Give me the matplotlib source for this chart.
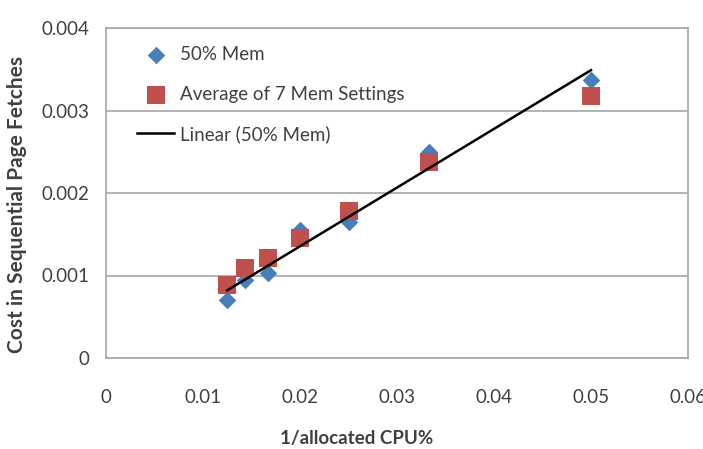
import matplotlib
matplotlib.use("Agg")
import matplotlib.pyplot as plt
import numpy as np

plt.rcParams['font.family'] = ['Lato', 'DejaVu Sans']

x_vals = [1/80, 1/70, 1/60, 1/50, 1/40, 1/30, 1/20]
mem50 = [0.00070, 0.00094, 0.00103, 0.00155, 0.00165, 0.00250, 0.00337]
avg7 = [0.00089, 0.00109, 0.00121, 0.00146, 0.00178, 0.00237, 0.00318]
x_ticks = [0, 0.01, 0.02, 0.03, 0.04, 0.05, 0.06]
y_ticks = [0, 0.001, 0.002, 0.003, 0.004]
x_tick_labels = ["0", "0.01", "0.02", "0.03", "0.04", "0.05", "0.06"]
y_tick_labels = ["0", "0.001", "0.002", "0.003", "0.004"]

fig = plt.figure(figsize=(7.03, 4.49), dpi=100)
ax = fig.add_axes([106/703, 1-358/449, (688-106)/703, (358-28)/449])

xa = np.array(x_vals)
coef = np.polyfit(xa, np.array(mem50), 1)
xs = np.array([min(x_vals), max(x_vals)])

ax.scatter(x_vals, mem50, marker='D', s=80, color='#4a7ebb', label='50% Mem', zorder=3, linewidths=0)
ax.scatter(x_vals, avg7, marker='s', s=150, color='#c0504d', label='Average of 7 Mem Settings', zorder=3, linewidths=0)
ax.plot(xs, np.polyval(coef, xs), color='black', lw=1.8, label='Linear (50% Mem)', zorder=4)

ax.set_xlim(0, 0.06)
ax.set_ylim(0, 0.004)
ax.set_xticks(x_ticks)
ax.set_xticklabels(x_tick_labels)
ax.set_yticks(y_ticks)
ax.set_yticklabels(y_tick_labels)
ax.tick_params(length=0, labelsize=13.5, labelcolor='#404040')
ax.tick_params(axis='x', pad=22)
ax.tick_params(axis='y', pad=12)
ax.grid(axis='y', color='#a6a6a6', lw=1.2)
ax.set_axisbelow(True)
for s in ax.spines.values():
    s.set_color('#a6a6a6')
    s.set_linewidth(1.2)

ax.set_xlabel('1/allocated CPU%', fontsize=13.5, fontweight='bold', color='#404040', va='center')
ax.xaxis.set_label_coords(0.431, -0.243)
ax.set_ylabel('Cost in Sequential Page Fetches', fontsize=15, fontweight='bold', color='#404040', va='center')
ax.yaxis.set_label_coords(-0.153, 0.464)

leg = ax.legend(loc='upper left', bbox_to_anchor=(0.053, 0.945), frameon=False, fontsize=13.5,
                labelspacing=1.2, handletextpad=0.3, handlelength=2.0,
                borderaxespad=0, borderpad=0)
for t in leg.get_texts():
    t.set_color('#404040')

fig.savefig('out.png', dpi=100)
